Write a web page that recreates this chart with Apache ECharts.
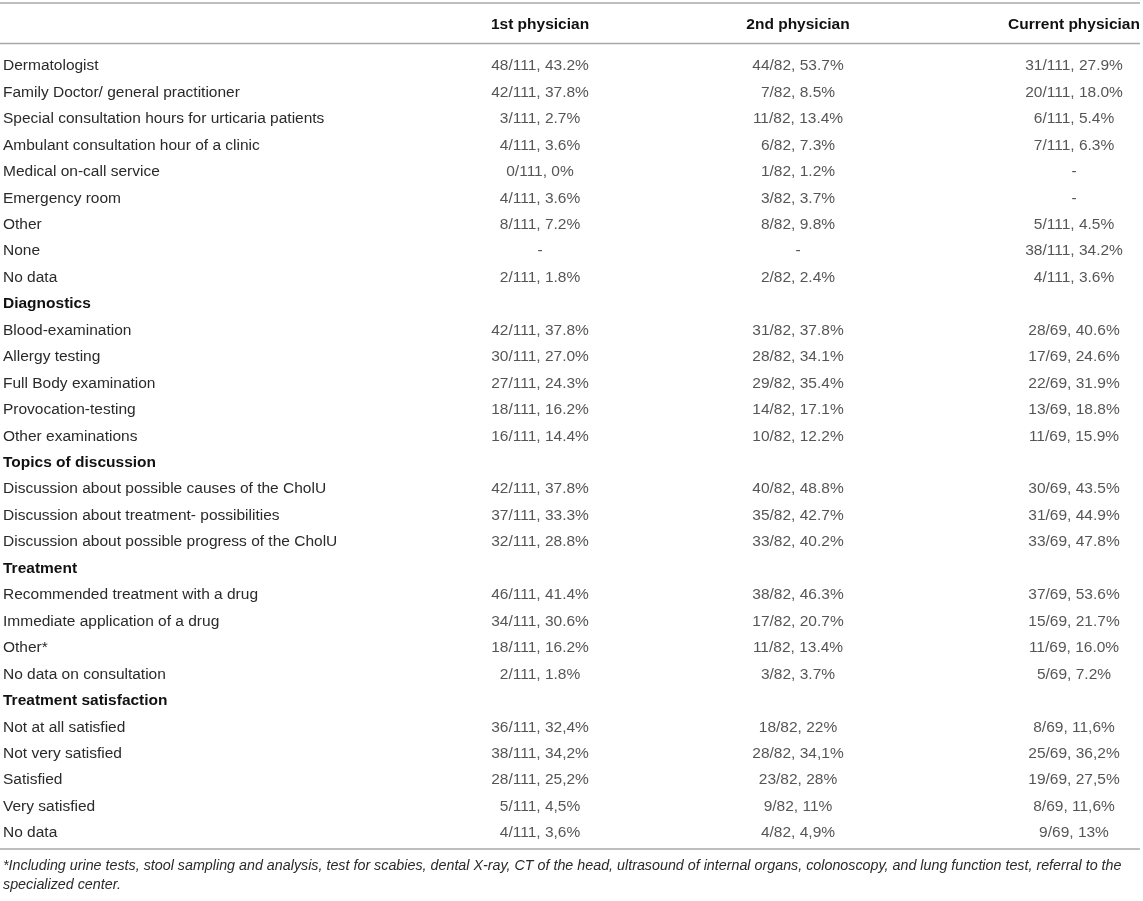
<!DOCTYPE html>
<html>
<head>
<meta charset="utf-8">
<script src="https://cdn.jsdelivr.net/npm/echarts@6/dist/echarts.min.js"></script>
<style>
html,body{margin:0;padding:0;background:#fff;}
#chart{width:1143px;height:901px;}
</style>
</head>
<body>
<div id="chart"></div>
<script>
const rowLabels = [
  'Dermatologist',
  'Family Doctor/ general practitioner',
  'Special consultation hours for urticaria patients',
  'Ambulant consultation hour of a clinic',
  'Medical on-call service',
  'Emergency room',
  'Other',
  'None',
  'No data',
  'Diagnostics',
  'Blood-examination',
  'Allergy testing',
  'Full Body examination',
  'Provocation-testing',
  'Other examinations',
  'Topics of discussion',
  'Discussion about possible causes of the CholU',
  'Discussion about treatment- possibilities',
  'Discussion about possible progress of the CholU',
  'Treatment',
  'Recommended treatment with a drug',
  'Immediate application of a drug',
  'Other*',
  'No data on consultation',
  'Treatment satisfaction',
  'Not at all satisfied',
  'Not very satisfied',
  'Satisfied',
  'Very satisfied',
  'No data'
];
const sectionRows = [9, 15, 19, 24];
const columnHeaders = ['1st physician', '2nd physician', 'Current physician'];
const firstPhysician = [
  '48/111, 43.2%', '42/111, 37.8%', '3/111, 2.7%', '4/111, 3.6%', '0/111, 0%', '4/111, 3.6%', '8/111, 7.2%', '-', '2/111, 1.8%',
  '',
  '42/111, 37.8%', '30/111, 27.0%', '27/111, 24.3%', '18/111, 16.2%', '16/111, 14.4%',
  '',
  '42/111, 37.8%', '37/111, 33.3%', '32/111, 28.8%',
  '',
  '46/111, 41.4%', '34/111, 30.6%', '18/111, 16.2%', '2/111, 1.8%',
  '',
  '36/111, 32,4%', '38/111, 34,2%', '28/111, 25,2%', '5/111, 4,5%', '4/111, 3,6%'
];
const secondPhysician = [
  '44/82, 53.7%', '7/82, 8.5%', '11/82, 13.4%', '6/82, 7.3%', '1/82, 1.2%', '3/82, 3.7%', '8/82, 9.8%', '-', '2/82, 2.4%',
  '',
  '31/82, 37.8%', '28/82, 34.1%', '29/82, 35.4%', '14/82, 17.1%', '10/82, 12.2%',
  '',
  '40/82, 48.8%', '35/82, 42.7%', '33/82, 40.2%',
  '',
  '38/82, 46.3%', '17/82, 20.7%', '11/82, 13.4%', '3/82, 3.7%',
  '',
  '18/82, 22%', '28/82, 34,1%', '23/82, 28%', '9/82, 11%', '4/82, 4,9%'
];
const currentPhysician = [
  '31/111, 27.9%', '20/111, 18.0%', '6/111, 5.4%', '7/111, 6.3%', '-', '-', '5/111, 4.5%', '38/111, 34.2%', '4/111, 3.6%',
  '',
  '28/69, 40.6%', '17/69, 24.6%', '22/69, 31.9%', '13/69, 18.8%', '11/69, 15.9%',
  '',
  '30/69, 43.5%', '31/69, 44.9%', '33/69, 47.8%',
  '',
  '37/69, 53.6%', '15/69, 21.7%', '11/69, 16.0%', '5/69, 7.2%',
  '',
  '8/69, 11,6%', '25/69, 36,2%', '19/69, 27,5%', '8/69, 11,6%', '9/69, 13%'
];
const footnoteLines = [
  '*Including urine tests, stool sampling and analysis, test for scabies, dental X-ray, CT of the head, ultrasound of internal organs, colonoscopy, and lung function test, referral to the',
  'specialized center.'
];

// layout (not data)
const W = 1143, H = 901;
const FONT = '"Liberation Sans", Arial, Helvetica, sans-serif';
const FS = 15.5;
const TEXT = '#2a2a2a';
const RULE = '#a8a8a8';
const colX = [540, 798, 1074];
const rowH = 26.45;
const firstRowY = 66;
const gridTop = firstRowY - rowH / 2;
const gridH = rowH * rowLabels.length;

const columns = [firstPhysician, secondPhysician, currentPhysician];

const series = columns.map((col, c) => ({
  type: 'scatter',
  name: columnHeaders[c],
  symbol: 'circle',
  symbolSize: 1,
  itemStyle: { color: 'rgba(0,0,0,0)' },
  silent: true,
  label: {
    show: true,
    position: 'inside',
    formatter: p => p.data[2],
    fontFamily: FONT,
    fontSize: FS,
    color: TEXT
  },
  data: col.map((v, i) => [colX[c], i, v]).filter(d => d[2] !== '')
}));

const chart = echarts.init(document.getElementById('chart'), null, { renderer: 'canvas' });
chart.setOption({
  backgroundColor: '#fff',
  animation: false,
  grid: { left: 0, right: 0, top: gridTop, height: gridH, containLabel: false },
  xAxis: {
    type: 'value',
    position: 'top',
    min: 0,
    max: W,
    splitLine: { show: false },
    axisLine: { show: false },
    axisTick: { show: false },
    axisLabel: {
      show: true,
      customValues: colX,
      margin: gridTop - 24 - 9,
      formatter: v => columnHeaders[colX.indexOf(v)] || '',
      fontFamily: FONT,
      fontSize: FS,
      fontWeight: 'bold',
      color: '#111'
    }
  },
  yAxis: {
    type: 'category',
    inverse: true,
    data: rowLabels,
    axisLine: { show: false },
    axisTick: { show: false },
    splitLine: { show: false },
    axisLabel: {
      inside: true,
      margin: 3,
      interval: 0,
      formatter: (v, i) => sectionRows.includes(i) ? '{b|' + v + '}' : '{n|' + v + '}',
      rich: {
        n: { fontFamily: FONT, fontSize: FS, color: TEXT },
        b: { fontFamily: FONT, fontSize: FS, color: '#111', fontWeight: 'bold' }
      }
    }
  },
  series: series,
  graphic: [
    { type: 'line', shape: { x1: 0, y1: 3, x2: 1140, y2: 3 }, style: { stroke: RULE, lineWidth: 1.5 }, silent: true },
    { type: 'line', shape: { x1: 0, y1: 43.5, x2: 1140, y2: 43.5 }, style: { stroke: RULE, lineWidth: 1.5 }, silent: true },
    { type: 'line', shape: { x1: 0, y1: 849, x2: 1140, y2: 849 }, style: { stroke: RULE, lineWidth: 1.5 }, silent: true },
    {
      type: 'text', left: 3, top: 857, silent: true,
      style: {
        text: footnoteLines.join('\n'),
        font: 'italic 14.3px ' + FONT,
        fill: TEXT,
        lineHeight: 19
      }
    }
  ]
});
</script>
</body>
</html>
